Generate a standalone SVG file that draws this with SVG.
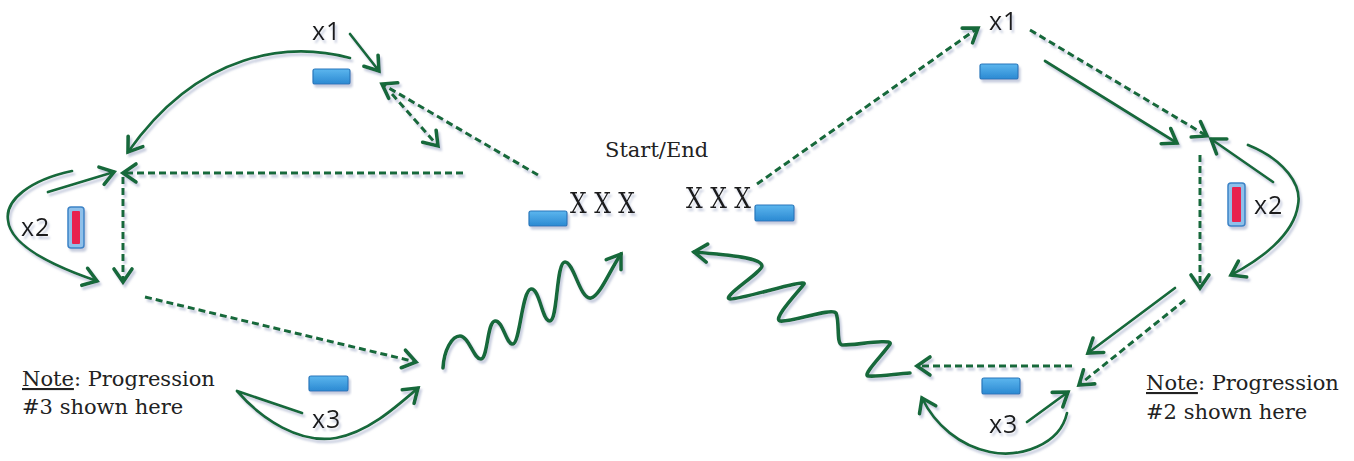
<svg xmlns="http://www.w3.org/2000/svg" width="1354" height="461" viewBox="0 0 1354 461">
<style>
.c{fill:none;stroke:#17693a;stroke-width:2.7;stroke-linecap:round;stroke-linejoin:round}
.d{fill:none;stroke:#17693a;stroke-width:3;stroke-dasharray:7 4}
.s{fill:none;stroke:#17693a;stroke-width:3.6;stroke-linecap:round;stroke-linejoin:round}
.lbl{font-family:"Open Sans","Liberation Sans",sans-serif;font-size:25px;fill:#1a1a1a;letter-spacing:1px}
.ser{font-family:"DejaVu Serif","Liberation Serif",serif;font-size:21px;fill:#222}
.xx{font-family:"DejaVu Serif","Liberation Serif",serif;font-size:28px;fill:#1a1a1a}
.blk{fill:url(#bg);stroke:#2877bb;stroke-width:1.2}
</style>
<defs>
<linearGradient id="bg" x1="0" y1="0" x2="0" y2="1">
<stop offset="0" stop-color="#5cb6ee"/>
<stop offset="1" stop-color="#2b89d2"/>
</linearGradient>
<filter id="sh" x="-10%" y="-10%" width="120%" height="130%">
<feDropShadow dx="2" dy="3" stdDeviation="0.9" flood-color="#98a2c2" flood-opacity="0.55"/>
</filter>
<marker id="a" viewBox="-16 -11 19 22" refX="0" refY="0" markerWidth="19" markerHeight="22" orient="auto" markerUnits="userSpaceOnUse" overflow="visible">
<path d="M-13,-9 L0,0 L-13,9" fill="none" stroke="#17693a" stroke-width="3.6" stroke-linecap="round" stroke-linejoin="miter"/>
</marker>
</defs>
<rect width="1354" height="461" fill="#ffffff"/>

<g id="connectors" filter="url(#sh)">
<path class="c" d="M350,34 L379,71" marker-end="url(#a)"/>
<path class="c" d="M350,58 C290,42 200,50 128,152" marker-end="url(#a)"/>
<path class="d" d="M538,175 L382,84" marker-end="url(#a)"/>
<path class="d" d="M392,94 L438,146" marker-end="url(#a)"/>
<path class="d" d="M463,173 L123,173" marker-end="url(#a)"/>
<path class="d" d="M123,177 L123,282" marker-end="url(#a)"/>
<path class="c" d="M48,192 L114,172" marker-end="url(#a)"/>
<path class="c" d="M72,171 C30,180 5,200 8,220 C10,245 50,265 97,281" marker-end="url(#a)"/>
<path class="d" d="M145,297 L416,362" marker-end="url(#a)"/>
<path class="c" d="M302,413 L237,391 C262,420 300,444 336,438 C368,432 395,408 418,388" marker-end="url(#a)"/>
<path class="s" d="M443,368 C444,350 452,336 460,336 C469,336 474,360 481,359 C488,358 487,322 495,321 C503,320 506,345 513,344 C520,343 522,290 531,289 C540,288 542,322 550,321 C558,320 556,262 565,262 C574,262 580,300 591,298 C600,296 610,270 621,254" marker-end="url(#a)"/>

<path class="d" d="M757,184 L978,28" marker-end="url(#a)"/>
<path class="d" d="M1030,30 L1207,136" marker-end="url(#a)"/>
<path class="c" d="M1045,61 L1177,143" marker-end="url(#a)"/>
<path class="c" d="M1273,182 L1211,139" marker-end="url(#a)"/>
<path class="c" d="M1248,145 C1285,160 1302,185 1298,205 C1294,235 1260,260 1231,275" marker-end="url(#a)"/>
<path class="d" d="M1200,155 L1200,288" marker-end="url(#a)"/>
<path class="c" d="M1175,288 L1088,353" marker-end="url(#a)"/>
<path class="d" d="M1185,300 L1079,385" marker-end="url(#a)"/>
<path class="d" d="M1072,366 L917,366" marker-end="url(#a)"/>
<path class="c" d="M1027,422 L1068,392" marker-end="url(#a)"/>
<path class="c" d="M1067,413 C1060,445 1020,458 990,452 C960,446 935,425 922,398" marker-end="url(#a)"/>
<path class="s" d="M910,373 C895,374 878,377 868,376 C862,375 885,352 890,344 C893,338 850,346 842,345 C836,344 840,322 836,313 C832,307 790,323 780,321 C772,319 800,290 804,284 C808,278 740,300 730,299 C720,298 762,272 762,266 C762,258 730,255 694,252" marker-end="url(#a)"/>
</g>

<g id="left-x1" filter="url(#sh)">
<rect class="blk" x="313" y="69" width="37" height="15" rx="2"/>
<text class="lbl" x="312" y="40">x1</text>
</g>
<g id="left-x2" filter="url(#sh)">
<rect x="68" y="207" width="16" height="41" rx="3" fill="#8fc0ea" stroke="#3c83c6" stroke-width="1.5"/>
<rect x="72" y="211" width="8" height="33" rx="1" fill="#e8214f"/>
<text class="lbl" x="21" y="236">x2</text>
</g>
<g id="left-x3" filter="url(#sh)">
<rect class="blk" x="309" y="376" width="39" height="15" rx="2"/>
<text class="lbl" x="312" y="428">x3</text>
</g>
<g id="left-note">
<text class="ser" x="22" y="386"><tspan text-decoration="underline">Note</tspan>: Progression</text>
<text class="ser" x="22" y="414">#3 shown here</text>
</g>
<g id="start-end">
<text class="ser" x="605" y="157">Start/End</text>
</g>
<g id="left-start" filter="url(#sh)">
<rect class="blk" x="529" y="211" width="38" height="15" rx="2"/>
<text class="xx" x="570" y="213" textLength="65" lengthAdjust="spacingAndGlyphs">X X X</text>
</g>
<g id="right-start" filter="url(#sh)">
<rect class="blk" x="755" y="205" width="39" height="16" rx="2"/>
<text class="xx" x="686" y="208" textLength="65" lengthAdjust="spacingAndGlyphs">X X X</text>
</g>
<g id="right-x1" filter="url(#sh)">
<rect class="blk" x="980" y="64" width="38" height="15" rx="2"/>
<text class="lbl" x="989" y="30">x1</text>
</g>
<g id="right-x2" filter="url(#sh)">
<rect x="1228" y="183" width="17" height="43" rx="3" fill="#8fc0ea" stroke="#3c83c6" stroke-width="1.5"/>
<rect x="1232" y="187" width="9" height="35" rx="1" fill="#e8214f"/>
<text class="lbl" x="1254" y="214">x2</text>
</g>
<g id="right-x3" filter="url(#sh)">
<rect class="blk" x="982" y="378" width="38" height="16" rx="2"/>
<text class="lbl" x="989" y="433">x3</text>
</g>
<g id="right-note">
<text class="ser" x="1146" y="390"><tspan text-decoration="underline">Note</tspan>: Progression</text>
<text class="ser" x="1146" y="419">#2 shown here</text>
</g>
</svg>
